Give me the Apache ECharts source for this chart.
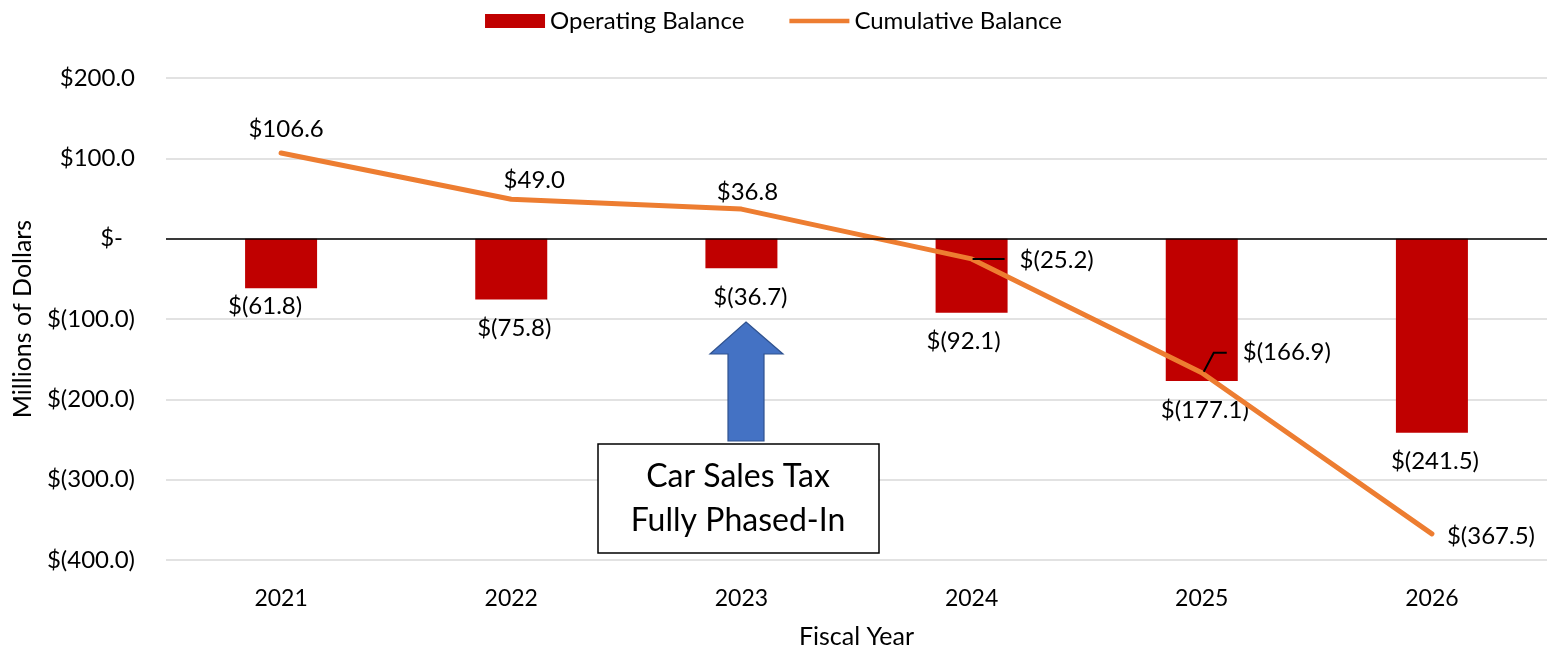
<!DOCTYPE html>
<html>
<head>
<meta charset="utf-8">
<title>Operating and Cumulative Balance</title>
<script src="https://cdn.jsdelivr.net/npm/echarts@6/dist/echarts.min.js"></script>
<style>html,body{margin:0;padding:0;background:#fff;}</style>
</head>
<body>
<div id="main" style="width:1547px;height:657px;"></div>
<script type="text/javascript">
// data (millions of dollars)
var years = ['2021', '2022', '2023', '2024', '2025', '2026'];
var operating = [-61.8, -75.8, -36.7, -92.1, -177.1, -241.5];
var cumulative = [106.6, 49.0, 36.8, -25.2, -166.9, -367.5];

// label placement tweaks (the source labels were nudged by hand)
var barLabelDist = [6, 17, 17, 17, 17, 17];
var barLabelShift = [-16, 3, 9, -8, 3, 3];
var lineLabelPos = ['top', 'top', 'top', 'right', 'right', 'right'];
var lineLabelDist = [11, 6, 4, 47, 40, 14];
var lineLabelShift = [[5, 0], [23, 0], [6, 0], [0, 1], [0, -20], [0, 2]];
// leader lines for the moved labels: [index, list of [dx, dy] from the point]
var leaders = [
    [3, [[1, 0], [33, 0]]],
    [4, [[2, -1], [12, -20], [25, -20]]]
];

var FONT = 'Lato, "Noto Sans", sans-serif';

function money(v) {
    if (v === 0) return '$-';
    var s = Math.abs(v).toFixed(1);
    return v < 0 ? '$(' + s + ')' : '$' + s;
}

var barData = operating.map(function (v, i) {
    return {
        value: v,
        label: {distance: barLabelDist[i], offset: [barLabelShift[i], 0]}
    };
});

var lineData = cumulative.map(function (v, i) {
    return {
        value: v,
        label: {
            position: lineLabelPos[i],
            distance: lineLabelDist[i],
            offset: lineLabelShift[i]
        }
    };
});

var chart = echarts.init(document.getElementById('main'));

var option = {
    animation: false,
    textStyle: {fontFamily: FONT, color: '#000'},
    legend: {
        top: 4,
        left: 'center',
        itemGap: 45,
        itemWidth: 60,
        itemHeight: 14,
        textStyle: {fontSize: 24, color: '#000', fontFamily: FONT},
        data: [
            {name: 'Operating Balance', icon: 'rect'},
            {name: 'Cumulative Balance', icon: 'path://M0,0 H64 V5 H0 Z'}
        ]
    },
    grid: {left: 166, right: 0, top: 78, bottom: 97},
    xAxis: {
        type: 'category',
        data: years,
        axisLine: {show: false, onZero: false},
        axisTick: {show: false},
        axisLabel: {fontSize: 23, color: '#000', margin: 27, fontFamily: FONT},
        name: 'Fiscal Year',
        nameLocation: 'middle',
        nameGap: 64,
        nameTextStyle: {fontSize: 25, color: '#000', fontFamily: FONT}
    },
    yAxis: {
        type: 'value',
        min: -400,
        max: 200,
        interval: 100,
        axisLine: {show: false},
        axisTick: {show: false},
        splitLine: {lineStyle: {color: '#d9d9d9', width: 1.5}},
        axisLabel: {
            fontSize: 24,
            color: '#000',
            margin: 31,
            fontFamily: FONT,
            formatter: function (v) {
                return v === 0 ? '{z|$-}' : money(v);
            },
            rich: {z: {fontSize: 24, fontFamily: FONT, color: '#000', padding: [0, 12, 0, 0]}}
        },
        name: 'Millions of Dollars',
        nameLocation: 'middle',
        nameGap: 131,
        nameTextStyle: {fontSize: 25, color: '#000', fontFamily: FONT}
    },
    series: [
        {
            name: 'Operating Balance',
            type: 'bar',
            barWidth: 72,
            itemStyle: {color: '#c00000'},
            label: {
                show: true,
                position: 'bottom',
                fontSize: 24,
                color: '#000',
                fontFamily: FONT,
                formatter: function (p) { return money(p.value); }
            },
            markLine: {
                silent: true,
                symbol: ['none', 'none'],
                label: {show: false},
                lineStyle: {color: '#000', width: 1.6, type: 'solid'},
                data: [{yAxis: 0}]
            },
            data: barData
        },
        {
            name: 'Cumulative Balance',
            type: 'line',
            symbol: 'circle',
            symbolSize: 2,
            itemStyle: {color: '#ed7d31'},
            lineStyle: {color: '#ed7d31', width: 5, cap: 'round', join: 'round'},
            label: {
                show: true,
                fontSize: 24,
                color: '#000',
                fontFamily: FONT,
                formatter: function (p) { return money(p.value); }
            },
            data: lineData
        }
    ],
    graphic: [
        {
            type: 'polygon',
            z: 100,
            shape: {
                points: [[746, 322], [783, 354], [764, 354], [764, 441],
                         [728, 441], [728, 354], [710, 354]]
            },
            style: {fill: '#4472c4', stroke: '#2f528f', lineWidth: 1.2}
        },
        {
            type: 'rect',
            z: 100,
            shape: {x: 598, y: 444, width: 281, height: 109},
            style: {fill: '#fff', stroke: '#000', lineWidth: 1.5}
        },
        {
            type: 'text',
            z: 101,
            x: 738,
            y: 499,
            style: {
                text: 'Car Sales Tax\nFully Phased-In',
                font: '32px ' + FONT,
                fill: '#000',
                align: 'center',
                verticalAlign: 'middle',
                lineHeight: 44
            }
        }
    ]
};

chart.setOption(option);

// leader lines hang off the line points, placed through the chart's own scales
var leaderGraphics = leaders.map(function (l) {
    var i = l[0];
    var p = chart.convertToPixel({seriesIndex: 1}, [i, cumulative[i]]);
    return {
        type: 'polyline',
        z: 100,
        shape: {points: l[1].map(function (d) { return [p[0] + d[0], p[1] + d[1]]; })},
        style: {stroke: '#000', lineWidth: 2, fill: null}
    };
});
chart.setOption({graphic: option.graphic.concat(leaderGraphics)});
</script>
</body>
</html>
